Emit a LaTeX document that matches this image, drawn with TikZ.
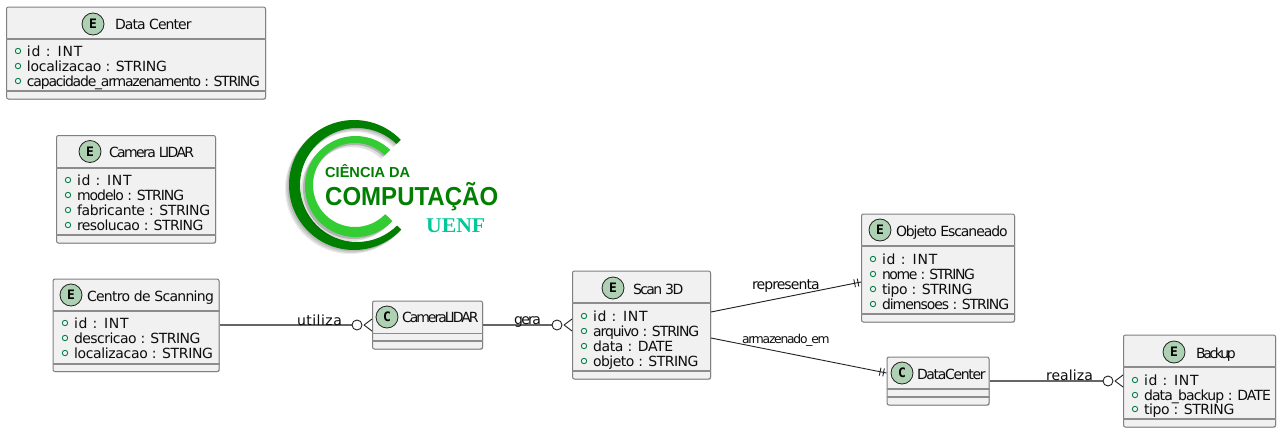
\documentclass[tikz,border=0pt]{standalone}
\usepackage{fontspec}
\usepackage{graphicx}
\usetikzlibrary{calc,shadows}
\setmainfont{DejaVu Sans}
\newfontfamily\monob{DejaVu Sans Mono}
\newfontfamily\logosans{Liberation Sans}
\newfontfamily\logoserif{Liberation Serif}
\definecolor{boxfill}{HTML}{F1F1F1}
\definecolor{boxline}{HTML}{808080}
\definecolor{ruleline}{HTML}{8C8C8C}
\definecolor{spot}{HTML}{ADD1B2}
\definecolor{dotc}{HTML}{038048}
\definecolor{linec}{HTML}{222222}
\definecolor{hlinec}{HTML}{666666}
\definecolor{logodark}{HTML}{007F00}
\definecolor{logolight}{HTML}{33CC33}
\definecolor{logoteal}{HTML}{00C89A}
\tikzset{
  ebox/.style={draw=boxline,fill=boxfill,line width=1pt,rounded corners=2pt,inner sep=0pt,
    drop shadow={shadow xshift=0.7pt,shadow yshift=-0.7pt,opacity=.3,fill=black}},
  rule/.style={draw=ruleline,line width=1.1pt},
  spotc/.style={circle,draw=linec,fill=spot,line width=0.8pt,minimum size=22pt,inner sep=0pt,
    font=\fontsize{13}{13}\selectfont\monob\bfseries},
  txt/.style={anchor=base west,inner sep=0pt,outer sep=0pt,text=black!95,font=\fontsize{14}{14}\selectfont},
  conn/.style={draw=linec,line width=0.9pt},
  hconn/.style={draw=hlinec,line width=1.5pt},
  crowc/.style={draw=linec,line width=0.9pt,fill=white},
}
\ExplSyntaxOn
\cs_new:Npn \strcnt #1 { \str_count:n {#1} }
\ExplSyntaxOff
\newlength{\natw}
\newcount\nch
% tracked text, set inside the node: fits it to a target width (in px) by letter spacing
\newcommand{\trktxt}[2]{%
  \setbox0=\hbox{\fontsize{14}{14}\selectfont #2}\natw=\wd0\relax
  \nch=\numexpr\strcnt{#2}-1\relax
  \pgfmathsetmacro{\lsp}{((#1)-(\the\natw)*1.00375)/\the\nch/14*100}%
  \font\trkf="DejaVu Sans:letterspace=\lsp" at 14pt\relax
  \trkf #2}
\newcommand{\fittxt}[5]{% name x baseline rightx text
  \node[txt] (#1) at (#2,#3) {\trktxt{#4-#2}{#5}};}
% box: name x1 y1 x2 y2
\newcommand{\ebx}[5]{%
  \pgfmathsetmacro{\bw}{#4-#2}\pgfmathsetmacro{\bh}{#5-#3}%
  \pgfmathsetmacro{\bcx}{(#4+#2)/2}\pgfmathsetmacro{\bcy}{(#5+#3)/2}%
  \node[ebox,minimum width=\bw pt,minimum height=\bh pt] (#1) at (\bcx,\bcy) {};}
\newcommand{\attr}[5]{% name x baseline rightx text
  \pgfmathsetmacro{\dx}{#2-9}\pgfmathsetmacro{\dy}{#3-5}%
  \draw[dotc,line width=0.9pt] (\dx,\dy) circle[radius=2.7pt];
  \fittxt{#1}{#2}{#3}{#4}{#5}}
\newcommand{\crow}[1]{% crow foot ending at the node west
  \draw[crowc] ([xshift=-15pt]#1.west) circle[radius=5pt];
  \draw[conn] ([shift={(-8pt,0pt)}]#1.west) -- ([shift={(0pt,6pt)}]#1.west);
  \draw[conn] ([shift={(-8pt,0pt)}]#1.west) -- ([shift={(0pt,-6pt)}]#1.west);}
\newcommand{\bars}[2]{% end, other end
  \draw[conn] ($(#1)!3pt!(#2)!4pt!90:(#2)$) -- ($(#1)!3pt!(#2)!4pt!-90:(#2)$);
  \draw[conn] ($(#1)!6.5pt!(#2)!4pt!90:(#2)$) -- ($(#1)!6.5pt!(#2)!4pt!-90:(#2)$);}
\newcommand{\cresc}[8]{% color opacity cx cy r cx2 cy2 r2
  \fill[#1,opacity=#2,even odd rule] (#3,#4) circle[radius=#5pt] (#6,#7) circle[radius=#8pt];}
\catcode`\_=12
\begin{document}
\begin{tikzpicture}[x=1pt,y=-1pt]
\useasboundingbox (0,0) rectangle (1283,434);
\fill[white] (0,0) rectangle (1283,434);

% --- logo
\begin{scope}
\clip (354,184.5) -- (430,112) -- (430,100) -- (270,100) -- (270,270) -- (430,270) -- (430,257) -- cycle;
\cresc{black}{.07}{350}{189}{65}{354}{189}{57}
\cresc{black}{.10}{351}{188}{65}{355}{188}{57}
\cresc{black}{.12}{352.5}{186.5}{65}{356}{186.5}{57}
\cresc{logodark}{1}{354}{185}{65}{357}{185}{57}
\cresc{black}{.12}{351.5}{190.5}{50.5}{352}{189}{42}
\cresc{black}{.20}{353.5}{188.5}{50.5}{354}{187}{42}
\cresc{logolight}{1}{355.5}{186.5}{50.5}{355}{185}{42}
\end{scope}
\node[anchor=base west,inner sep=0pt,text=logodark,font=\logosans\bfseries\fontsize{14.5}{14.5}\selectfont] (lg1) at (325,177) {\resizebox{85pt}{\height}{CIÊNCIA DA}};
\node[anchor=base west,inner sep=0pt,text=logodark,font=\logosans\bfseries\fontsize{26}{26}\selectfont] (lg2) at (325,205) {\resizebox{173pt}{\height}{COMPUTAÇÃO}};
\node[anchor=base west,inner sep=0pt,text=logoteal,font=\logoserif\bfseries\fontsize{21}{21}\selectfont] (lg3) at (426,232) {\resizebox{59pt}{\height}{UENF}};

% --- Data Center entity
\ebx{dc}{6.5}{7}{265.5}{99}
\draw[rule] (dc.west|-0,39) -- (dc.east|-0,39);
\draw[rule] (dc.west|-0,91) -- (dc.east|-0,91);
\node[spotc] (dcs) at (93,24) {E};
\fittxt{dct}{115}{29}{191}{Data Center}
\attr{dca}{27}{56}{84}{id : INT}
\attr{dcb}{27}{71}{167}{localizacao : STRING}
\attr{dcc}{27}{86}{259}{capacidade_armazenamento : STRING}

% --- Camera LIDAR entity
\ebx{cl}{56.5}{135.5}{215.5}{243}
\draw[rule] (cl.west|-0,168) -- (cl.east|-0,168);
\draw[rule] (cl.west|-0,235) -- (cl.east|-0,235);
\node[spotc] (cls) at (90,151.5) {E};
\fittxt{clt}{109}{157}{193}{Camera LIDAR}
\attr{cla}{77}{185}{133}{id : INT}
\attr{clb}{77}{200}{183}{modelo : STRING}
\attr{clc}{77}{215}{210}{fabricante : STRING}
\attr{cld}{77}{230}{203}{resolucao : STRING}

% --- Centro de Scanning entity
\ebx{cs}{53}{279}{219}{371.5}
\draw[rule] (cs.west|-0,311) -- (cs.east|-0,311);
\draw[rule] (cs.west|-0,364) -- (cs.east|-0,364);
\node[spotc] (css) at (71,295) {E};
\fittxt{cst}{87}{301}{213}{Centro de Scanning}
\attr{csa}{74}{328}{130}{id : INT}
\attr{csb}{74}{343}{200}{descricao : STRING}
\attr{csc}{74}{358}{213}{localizacao : STRING}

% --- CameraLIDAR class
\ebx{cam}{372.5}{301}{482.5}{349}
\draw[rule] (cam.west|-0,333.5) -- (cam.east|-0,333.5);
\draw[rule] (cam.west|-0,341) -- (cam.east|-0,341);
\node[spotc] (cams) at (387,317) {C};
\fittxt{camt}{402}{322}{479}{CameraLIDAR}

% --- Scan 3D entity
\ebx{sc}{572.5}{271}{710.5}{379}
\draw[rule] (sc.west|-0,303) -- (sc.east|-0,303);
\draw[rule] (sc.west|-0,371) -- (sc.east|-0,371);
\node[spotc] (scs) at (613,288) {E};
\fittxt{sct}{633}{294}{682}{Scan 3D}
\attr{sca}{593}{321}{649}{id : INT}
\attr{scb}{593}{336}{698}{arquivo : STRING}
\attr{scc}{593}{351}{673}{data : DATE}
\attr{scd}{593}{366}{698}{objeto : STRING}

% --- Objeto Escaneado entity
\ebx{ob}{861.5}{214}{1014.5}{322}
\draw[rule] (ob.west|-0,246) -- (ob.east|-0,246);
\draw[rule] (ob.west|-0,314) -- (ob.east|-0,314);
\node[spotc] (obs) at (880,230) {E};
\fittxt{obt}{896}{236}{1007}{Objeto Escaneado}
\attr{oba}{882}{264}{939}{id : INT}
\attr{obb}{882}{279}{973}{nome : STRING}
\attr{obc}{882}{294}{972}{tipo : STRING}
\attr{obd}{882}{309}{1008}{dimensoes : STRING}

% --- DataCenter class
\ebx{dcc}{887}{357}{989}{405}
\draw[rule] (dcc.west|-0,389) -- (dcc.east|-0,389);
\draw[rule] (dcc.west|-0,397) -- (dcc.east|-0,397);
\node[spotc] (dccs) at (902,373) {C};
\fittxt{dcct}{917}{379}{986}{DataCenter}

% --- Backup entity
\ebx{bk}{1123.5}{335}{1275.5}{427}
\draw[rule] (bk.west|-0,367) -- (bk.east|-0,367);
\draw[rule] (bk.west|-0,419) -- (bk.east|-0,419);
\node[spotc] (bks) at (1174,352) {E};
\fittxt{bkt}{1196}{358}{1236}{Backup}
\attr{bka}{1144}{385}{1200}{id : INT}
\attr{bkb}{1144}{400}{1270}{data_backup : DATE}
\attr{bkc}{1144}{414}{1234}{tipo : STRING}

% --- connectors
\draw[hconn] (cs.east|-cam.west) -- ([xshift=-20pt]cam.west);
\crow{cam}
\draw[hconn] (cam.east) -- ([xshift=-20pt]sc.west);
\crow{sc}
\draw[hconn] (dcc.east) -- ([xshift=-20pt]bk.west);
\crow{bk}
\coordinate (r1) at (sc.east|-0,312);
\coordinate (r2) at (ob.west|-0,282);
\draw[conn] (r1) -- (r2);
\bars{r2}{r1}
\coordinate (a1) at (sc.east|-0,338);
\coordinate (a2) at (dcc.west|-0,373);
\draw[conn] (a1) -- (a2);
\bars{a2}{a1}

% --- connector labels
\fittxt{lu}{297}{325}{342}{utiliza}
\fittxt{lg}{514}{324}{541}{gera}
\fittxt{lr}{752}{289}{820}{representa}
\node[txt] (la) at (742,343) {\scalebox{0.88}{\trktxt{100}{armazenado_em}}};
\fittxt{lz}{1046}{380}{1093}{realiza}
\end{tikzpicture}
\end{document}
